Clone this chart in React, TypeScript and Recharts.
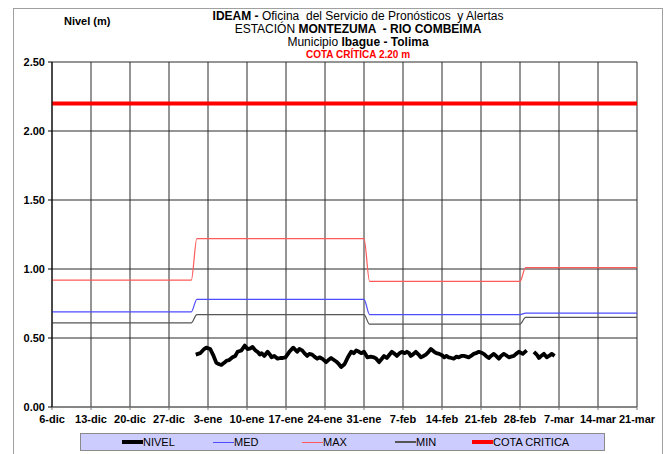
import { LineChart, Line, XAxis, YAxis, CartesianGrid } from 'recharts'

// x axis: days counted from 6-dic
const dayTicks = [0, 7, 14, 21, 28, 35, 42, 49, 56, 63, 70, 77, 84, 91, 98, 105]
const dayTickLabels = [
  '6-dic', '13-dic', '20-dic', '27-dic', '3-ene', '10-ene', '17-ene', '24-ene',
  '31-ene', '7-feb', '14-feb', '21-feb', '28-feb', '7-mar', '14-mar', '21-mar'
]
const levelTicks = [0, 0.5, 1, 1.5, 2, 2.5]

// monthly reference levels (dic, ene, feb, mar)
const monthStart = [0, 26, 57, 85]
const monthEnd = [25, 56, 84, 105]
const maxByMonth = [0.92, 1.22, 0.91, 1.01]
const medByMonth = [0.69, 0.78, 0.67, 0.68]
const minByMonth = [0.61, 0.67, 0.6, 0.65]

const cotaCritica = 2.2

// observed level
const nivelDay = [
  25.8, 26.6, 27.3, 27.7, 28.4, 29.0, 29.5, 30.0, 30.4, 30.9, 31.3, 31.8, 32.4, 32.9, 33.3, 34.0,
  34.6, 35.1, 35.6, 36.0, 36.5, 36.9, 37.3, 37.6, 38.1, 38.7, 39.1, 39.4, 39.9, 40.5, 41.0, 41.4,
  41.9, 42.6, 43.3, 44.0, 44.4, 44.9, 45.3, 45.8, 46.2, 46.7, 47.1, 47.6, 48.0, 48.5, 49.2, 49.6,
  50.1, 51.0, 51.5, 51.9, 52.5, 53.1, 53.7, 54.2, 54.6, 55.1, 55.5, 56.0, 56.6, 57.2, 57.8, 58.2,
  58.7, 59.2, 59.6, 60.1, 60.6, 61.0, 61.5, 61.9, 62.4, 62.8, 63.3, 63.7, 64.1, 64.4, 64.9, 65.3,
  65.8, 66.2, 66.7, 67.1, 67.6, 68.0, 68.6, 69.0, 69.5, 70.0, 70.4, 70.8, 71.2, 71.7, 72.1, 72.6,
  73.0, 73.5, 73.9, 74.4, 74.8, 75.2, 75.7, 76.1, 76.6, 77.0, 77.5, 77.9, 78.4, 78.8, 79.3, 79.7,
  80.2, 80.6, 81.1, 81.5, 82.0, 82.4, 82.9, 83.3, 83.8, 84.5, 85.2, 86.0, 86.5, 87.0, 87.4, 87.8,
  88.3, 88.8, 89.2, 89.7, 90.2
]
const nivelM = [
  0.38, 0.39, 0.42, 0.43, 0.42, 0.37, 0.32, 0.31, 0.305, 0.32, 0.335, 0.34, 0.36, 0.37, 0.4, 0.41,
  0.445, 0.42, 0.425, 0.435, 0.41, 0.4, 0.38, 0.39, 0.37, 0.4, 0.38, 0.36, 0.37, 0.35, 0.355, 0.355,
  0.36, 0.4, 0.43, 0.4, 0.42, 0.41, 0.39, 0.37, 0.385, 0.38, 0.365, 0.35, 0.36, 0.35, 0.325, 0.34,
  0.355, 0.33, 0.31, 0.29, 0.31, 0.36, 0.4, 0.39, 0.41, 0.4, 0.39, 0.4, 0.36, 0.365, 0.36, 0.35,
  0.325, 0.35, 0.37, 0.355, 0.38, 0.4, 0.385, 0.37, 0.39, 0.4, 0.39, 0.4, 0.39, 0.37, 0.385, 0.4,
  0.38, 0.36, 0.37, 0.38, 0.4, 0.42, 0.4, 0.39, 0.385, 0.375, 0.36, 0.37, 0.36, 0.355, 0.35, 0.365,
  0.36, 0.37, 0.37, 0.365, 0.36, 0.37, 0.385, 0.39, 0.4, 0.395, 0.385, 0.37, 0.355, 0.37, 0.385, 0.37,
  0.35, 0.37, 0.385, 0.375, 0.36, 0.365, 0.37, 0.385, 0.4, 0.385, 0.41, null, 0.4, 0.38, 0.355, 0.37,
  0.385, 0.36, 0.37, 0.385, 0.37
]

type Pt = { d: number; v: number | null }

function monthlySteps(values: number[]): Pt[] {
  const out: Pt[] = []
  values.forEach((v, i) => {
    out.push({ d: monthStart[i], v })
    out.push({ d: monthEnd[i], v })
  })
  return out
}

const nivelData: Pt[] = nivelDay.map((d, i) => ({ d, v: nivelM[i] }))
const maxData = monthlySteps(maxByMonth)
const medData = monthlySteps(medByMonth)
const minData = monthlySteps(minByMonth)
const cotaData: Pt[] = [
  { d: 0, v: cotaCritica },
  { d: 105, v: cotaCritica }
]

const FONT = '"Liberation Sans", Arial, sans-serif'

const legendItems = [
  { name: 'NIVEL', color: '#000', width: 4, left: 122 },
  { name: 'MED', color: '#4d4dff', width: 1, left: 213 },
  { name: 'MAX', color: '#ff5a5a', width: 1, left: 302 },
  { name: 'MIN', color: '#555', width: 1.5, left: 395 },
  { name: 'COTA CRITICA', color: '#ff0000', width: 4, left: 472 }
]

export default function App() {
  const tickStyle = { fontSize: 11, fontWeight: 'bold', fill: '#000', fontFamily: FONT }
  return (
    <div
      style={{
        position: 'fixed',
        left: 0,
        top: 0,
        width: 665,
        height: 454,
        overflow: 'hidden',
        background: '#fff',
        fontFamily: FONT,
        color: '#000'
      }}
    >
      <div
        style={{
          position: 'absolute',
          left: 13,
          top: 8,
          width: 648,
          height: 460,
          border: '1px solid #a0a0a0'
        }}
      />
      <LineChart
        width={665}
        height={454}
        margin={{ top: 62, right: 28, bottom: 27, left: 2 }}
        style={{ position: 'absolute', left: 0, top: 0 }}
      >
        <CartesianGrid stroke="#2a2a2a" strokeWidth={1} />
        <XAxis
          dataKey="d"
          type="number"
          domain={[0, 105]}
          ticks={dayTicks}
          tickFormatter={(v: number) => dayTickLabels[dayTicks.indexOf(v)] ?? ''}
          interval={0}
          height={20}
          tickSize={3}
          tickMargin={5}
          tick={tickStyle}
          stroke="#777"
          allowDataOverflow
        />
        <YAxis
          type="number"
          domain={[0, 2.5]}
          ticks={levelTicks}
          tickFormatter={(v: number) => v.toFixed(2)}
          width={50}
          tickSize={4}
          tickMargin={3}
          tick={tickStyle}
          stroke="#000"
        />
        <Line data={cotaData} dataKey="v" stroke="#ff0000" strokeWidth={4} dot={false} isAnimationActive={false} />
        <Line data={maxData} dataKey="v" type="monotone" stroke="#ff5a5a" strokeWidth={1.2} dot={false} isAnimationActive={false} />
        <Line data={medData} dataKey="v" type="monotone" stroke="#4d4dff" strokeWidth={1.2} dot={false} isAnimationActive={false} />
        <Line data={minData} dataKey="v" type="monotone" stroke="#555" strokeWidth={1.2} dot={false} isAnimationActive={false} />
        <Line
          data={nivelData}
          dataKey="v"
          type="linear"
          stroke="#000"
          strokeWidth={3.8}
          strokeLinejoin="round"
          dot={false}
          isAnimationActive={false}
        />
      </LineChart>

      <div style={{ position: 'absolute', left: 64, top: 15, fontSize: 11, fontWeight: 'bold' }}>Nivel (m)</div>
      <div
        style={{
          position: 'absolute',
          left: 158,
          width: 400,
          top: 10,
          textAlign: 'center',
          fontSize: 12,
          lineHeight: '13px'
        }}
      >
        <div>
          <b>IDEAM -</b> Oficina&nbsp; del Servicio de Pronósticos&nbsp; y Alertas
        </div>
        <div>
          ESTACIÓN <b>MONTEZUMA &nbsp;- RIO COMBEIMA</b>
        </div>
        <div>
          Municipio <b>Ibague - Tolima</b>
        </div>
        <div style={{ color: '#ff0000', fontSize: 10, fontWeight: 'bold', lineHeight: '12px' }}>
          COTA CRÍTICA 2.20 m
        </div>
      </div>

      <div
        style={{
          position: 'absolute',
          left: 80,
          top: 433,
          width: 525,
          height: 18,
          background: '#ccccff',
          border: '1px solid #8a8a8a',
          boxSizing: 'border-box'
        }}
      />
      {legendItems.map(it => (
        <div
          key={it.name}
          style={{
            position: 'absolute',
            left: it.left,
            top: 435,
            height: 14,
            display: 'flex',
            alignItems: 'center',
            fontSize: 11
          }}
        >
          <span style={{ display: 'inline-block', width: 21, height: it.width, background: it.color }} />
          <span>{it.name}</span>
        </div>
      ))}
    </div>
  )
}
